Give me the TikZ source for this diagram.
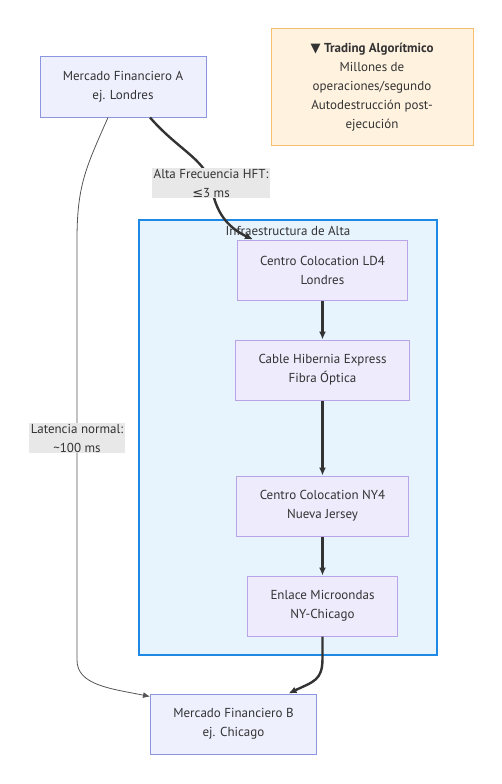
\documentclass[tikz,border=0pt]{standalone}
\usepackage{fontspec}
\setmainfont{PT Sans}
\newfontfamily\symfont{DejaVu Sans}
\usepackage{tikz}
\usetikzlibrary{arrows.meta,positioning}
\definecolor{mktfill}{HTML}{EEF0FE}
\definecolor{mktline}{HTML}{8C95E0}
\definecolor{nodefill}{HTML}{EDEBFC}
\definecolor{nodeline}{HTML}{B8A4E6}
\definecolor{groupfill}{HTML}{E7F3FD}
\definecolor{groupline}{HTML}{1E88E5}
\definecolor{notefill}{HTML}{FFF3E0}
\definecolor{noteline}{HTML}{F7BE6E}
\definecolor{lblfill}{HTML}{E8E8E8}
\definecolor{linkdark}{HTML}{333333}
\definecolor{linkgray}{HTML}{555555}
\definecolor{txt}{HTML}{333333}

\begin{document}
\begin{tikzpicture}[x=1pt,y=1pt,
  font=\fontsize{13}{19}\selectfont,text=txt,
  node distance=39pt,
  market/.style={draw=mktline,fill=mktfill,line width=1pt,align=center,
                 minimum height=60pt,minimum width=166pt},
  site/.style={draw=nodeline,fill=nodefill,line width=1pt,align=center,
               minimum height=60pt,inner xsep=23pt},
  groupbox/.style={draw=groupline,fill=groupfill,line width=2pt,
                   minimum width=298pt,minimum height=435pt},
  notebox/.style={draw=noteline,fill=notefill,line width=1pt,align=center,
                  minimum width=202pt,minimum height=116pt},
  edgelbl/.style={fill=lblfill,align=center,inner xsep=2pt,inner ysep=1pt},
  fast/.style={-{Latex[length=8pt,width=7pt]},line width=2.4pt,draw=linkdark},
  slow/.style={-{Latex[length=7pt,width=6pt]},line width=0.8pt,draw=linkgray}
]
\useasboundingbox (0,0) rectangle (502,-784);
\node[market] (mkta) at (123,-87) {Mercado Financiero A\\ej. Londres};
\node[notebox] (note) at (372,-87)
  {{\symfont ▼} \textbf{Trading Algorítmico}\\Millones de\\operaciones/segundo\\Autodestrucción post-\\ejecución};
\node[groupbox] (infra) at (288,-437.5) {};
\node (infratitle) at (288,-231) {Infraestructura de Alta};
\node[site] (ld4) at (322.5,-270) {Centro Colocation LD4\\Londres};
\node[site,below=of ld4] (hib) {Cable Hibernia Express\\Fibra Óptica};
\node[site,below=75pt of hib] (ny4) {Centro Colocation NY4\\Nueva Jersey};
\node[site,below=of ny4] (micro) {Enlace Microondas\\NY-Chicago};
\node[market,below=57pt of micro,xshift=-89pt] (mktb) {Mercado Financiero B\\ej. Chicago};
\coordinate (hftmid) at (211,-183);
\coordinate (lattop) at (77,-240);
\coordinate (latmid) at (77,-438);
\coordinate (latbot) at (77,-660);
% links
\draw[fast] ([xshift=27pt]mkta.south) .. controls +(28,-32) and +(-8,25) .. (hftmid)
  .. controls +(4,-30) and +(-25,12) .. ([xshift=-69.5pt]ld4.north);
\draw[slow] ([xshift=-15pt]mkta.south) .. controls +(-22,-50) and +(0,55) .. (lattop)
  -- (latmid) -- (latbot) .. controls +(0,-25) and +(-40,8) .. ([yshift=-3pt]mktb.north west);
\draw[fast] (ld4) -- (hib);
\draw[fast] (hib) -- (ny4);
\draw[fast] (ny4) -- (micro);
\draw[fast] (micro.south) -- ++(0,-22) .. controls +(0,-22) and +(25,12) .. ([xshift=55pt]mktb.north);
\node[edgelbl] (hft) at (hftmid) {Alta Frecuencia HFT:\\{\symfont≤}3 ms};
\node[edgelbl] (lat) at (latmid) {Latencia normal:\\\textasciitilde100 ms};
\end{tikzpicture}
\end{document}
